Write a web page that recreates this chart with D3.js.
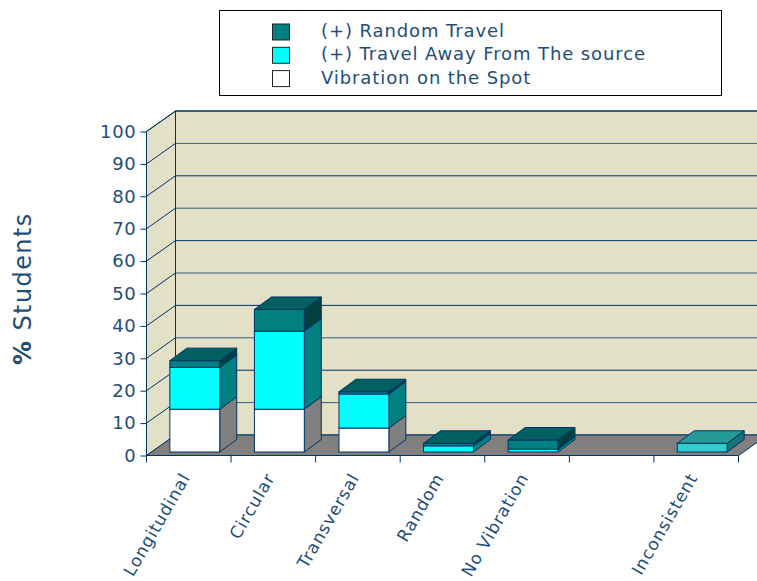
<!DOCTYPE html>
<html><head><meta charset="utf-8">
<style>html,body{margin:0;padding:0;background:#fff;overflow:hidden}svg{display:block}text{font-family:"DejaVu Sans",sans-serif;fill:#1f4e79}</style>
<script src="https://cdn.jsdelivr.net/npm/d3@7"></script></head><body>
<script>
const categories=["Longitudinal","Circular","Transversal","Random","No Vibration"," ","Inconsistent"];
const vibration=[13.2,13.2,7.4,0,0,0,0];
const away=[12.9,24.1,10.5,1.9,0.9,0,0];
const randomTravel=[2.1,6.7,0.7,0.8,2.8,0,0];
const inconsistent=[0,0,0,0,0,0,2.7];
const yTicks=[0,10,20,30,40,50,60,70,80,90,100];
const legendLabels=["(+) Random Travel","(+) Travel Away From The source","Vibration on the Spot"];
const legendColors=["#008080","#00ffff","#ffffff"];
const seriesValues=[vibration,away,randomTravel,inconsistent];
const seriesFront=["#ffffff","#00ffff","#008080","#33cccc"];
const seriesSide=["#808080","#008080","#004040","#1a7378"];
const seriesTop=["#b0b0b0","#00a0a0","#006060","#269999"];

const W=757,H=581,navy="#003366";
const svg=d3.select("body").append("svg").attr("width",W).attr("height",H);
const x=d3.scaleBand().domain(categories).range([146.5,738.5]);
const y=d3.scaleLinear().domain([0,100]).range([455.5,131.5]);
const dx=29,dy=-20.5,bdx=17,bdy=-12.5,baseDx=6,baseDy=-3.5;
const pts=a=>a.map(p=>p.join(",")).join(" ");
const x0=x.range()[0],x1=x.range()[1],y0=y(0),yT=y(100);

svg.append("polygon").attr("points",pts([[x0+dx,yT+dy],[x1+dx,yT+dy],[x1+dx,y0+dy],[x0+dx,y0+dy]])).attr("fill","#e2e0c6").attr("stroke",navy);
svg.append("polygon").attr("points",pts([[x0,yT],[x0+dx,yT+dy],[x0+dx,y0+dy],[x0,y0]])).attr("fill","#e2e0c6").attr("stroke",navy);
svg.append("polygon").attr("points",pts([[x0,y0],[x1,y0],[x1+dx,y0+dy],[x0+dx,y0+dy]])).attr("fill","#808080").attr("stroke",navy);
yTicks.slice(1).forEach(t=>{
  svg.append("line").attr("x1",x0).attr("y1",y(t)).attr("x2",x0+dx).attr("y2",y(t)+dy).attr("stroke",navy);
  svg.append("line").attr("x1",x0+dx).attr("y1",y(t)+dy).attr("x2",x1+dx).attr("y2",y(t)+dy).attr("stroke",navy).attr("stroke-opacity",t%20?0.75:1);
});

const barW=x.bandwidth()*0.59;
const g=svg.append("g").attr("stroke",navy).attr("stroke-width",1);
categories.forEach((c,i)=>{
  const left=x(c)+(x.bandwidth()-barW)/2+baseDx, right=left+barW;
  let acc=0,topIdx=-1;
  seriesValues.forEach((s,k)=>{if(s[i]>0)topIdx=k;});
  seriesValues.forEach((s,k)=>{
    const v=s[i]; if(!(v>0))return;
    const yb=y(acc)+baseDy, yt=y(acc+v)+baseDy; acc+=v;
    g.append("polygon").attr("points",pts([[right,yb],[right+bdx,yb+bdy],[right+bdx,yt+bdy],[right,yt]])).attr("fill",seriesSide[k]);
    g.append("rect").attr("x",left).attr("y",yt).attr("width",barW).attr("height",yb-yt).attr("fill",seriesFront[k]);
    if(k===topIdx) g.append("polygon").attr("points",pts([[left,yt],[left+bdx,yt+bdy],[right+bdx,yt+bdy],[right,yt]])).attr("fill",seriesTop[k]);
  });
});

const ya=svg.append("g").attr("transform",`translate(${x0},0)`).call(d3.axisLeft(y).tickValues(yTicks).tickSize(6).tickPadding(4));
ya.selectAll("line").attr("stroke",navy);ya.select(".domain").attr("stroke",navy).attr("d",`M0,${yT}V${y0}`);
ya.selectAll("text").attr("fill","#1f4e79").style("font-size","18px").style("letter-spacing","0.7px").style("font-family",'"DejaVu Sans"');

const xa=svg.append("g").attr("transform",`translate(0,${y0})`).call(d3.axisBottom(x).tickSize(0).tickPadding(0));
xa.select(".domain").attr("stroke",navy).attr("d",`M${x0},0H${x1}`);
xa.selectAll("text").attr("fill","#1f4e79").style("font-size","17px").style("letter-spacing","0.9px").style("font-family",'"DejaVu Sans"')
  .attr("text-anchor","end").attr("dy",0).attr("y",0).attr("transform","translate(2,22) rotate(-60)");
x.domain().forEach((c,i)=>{const px=x(c);
  xa.append("line").attr("x1",px).attr("x2",px).attr("y1",0).attr("y2",7).attr("stroke",navy);
  if(i===categories.length-1) xa.append("line").attr("x1",px+x.bandwidth()).attr("x2",px+x.bandwidth()).attr("y1",0).attr("y2",7).attr("stroke",navy);
});

const yl=svg.append("text").attr("transform","translate(31,365) rotate(-90)").style("font-size","24px").style("letter-spacing","1.4px");
yl.append("tspan").style("font-weight","bold").text("%");
yl.append("tspan").text(" Students");

svg.append("rect").attr("x",219.5).attr("y",10.5).attr("width",502).attr("height",85).attr("fill","#fff").attr("stroke","#000");
legendLabels.forEach((t,i)=>{
  const yy=32+i*23.3;
  svg.append("rect").attr("x",272.5).attr("y",yy-8).attr("width",17).attr("height",16).attr("fill",legendColors[i]).attr("stroke","#222");
  svg.append("text").attr("x",321).attr("y",yy+5).style("font-size","18px").style("letter-spacing","0.9px").text(t);
});
</script></body></html>
